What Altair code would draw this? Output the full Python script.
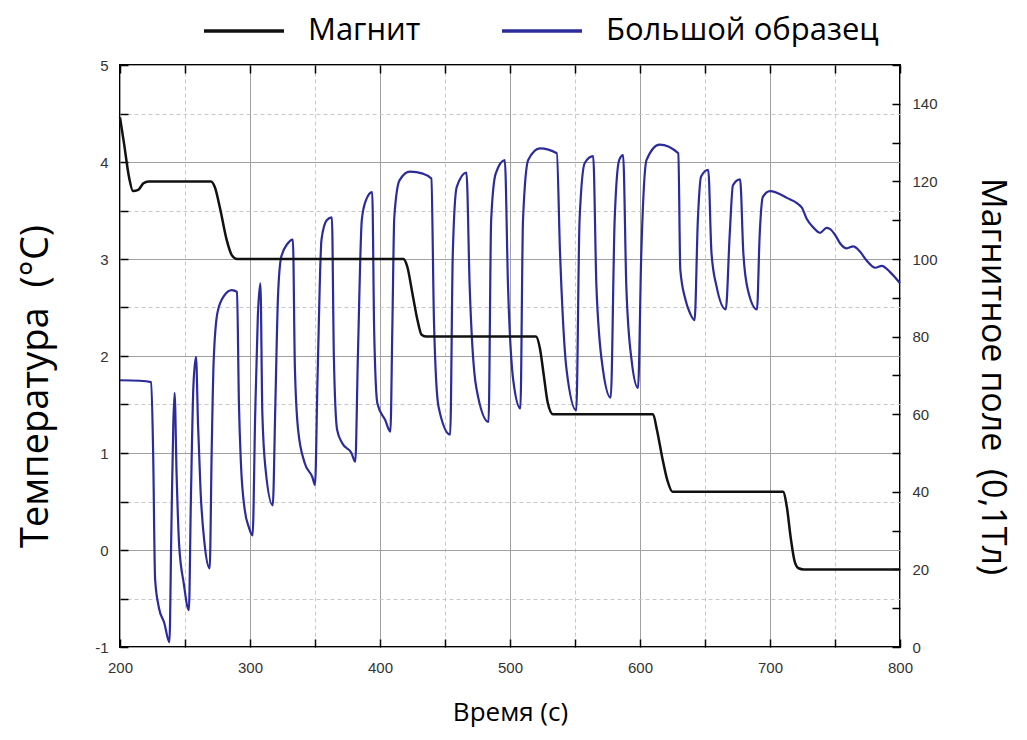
import altair as alt
import pandas as pd

# ---------------- data ----------------
series_names = ["Магнит", "Большой образец"]
series_colors = ["#111111", "#2b2b9c"]

# Temperature of the large sample (left axis, °C)
time_temp = [200, 215, 224, 225.5, 227, 230, 234, 238, 239.5, 241, 242, 243.5, 245.5, 249, 253,
             254.5, 256.5, 258.5, 260, 262, 265, 269, 270.5, 272, 275, 280, 286, 290, 291.5, 293,
             296, 299, 302, 304, 306, 308, 309.5, 312, 317.5, 319.5, 321.5, 324, 329, 333, 334.5,
             337, 342, 348, 350, 352, 355, 359, 363, 364.5, 367, 371, 378, 381, 383, 386, 389, 394,
             395.5, 398, 404, 408, 409.5, 411, 415, 423, 433, 439.5, 441.5, 445, 454, 456, 459,
             466.5, 469, 474, 483.5, 485.5, 489, 496, 498.5, 502.5, 508, 510, 514, 523, 536, 538.5,
             543.5, 551, 553.5, 557.5, 564, 566.5, 571.5, 577.5, 580.5, 584, 587, 589.5, 593.5,
             598.5, 601, 605, 615, 629.5, 631, 635, 638.5, 642, 644.5, 647, 652.5, 655, 659, 666,
             669, 671.5, 677, 679.5, 683, 690, 692, 694.5, 700, 713, 724.5, 728, 733, 738.5, 743.5,
             746, 750, 754, 759, 764, 769, 774, 781, 786, 792, 800]
temp = [1.75, 1.745, 1.73, 1.0, -0.3, -0.6, -0.75, -0.95, 0.2, 1.3, 1.62, 0.8, 0.05, -0.34, -0.62,
        0.5, 1.7, 1.99, 1.3, 0.6, 0.07, -0.19, 1.0, 1.93, 2.45, 2.62, 2.68, 2.66, 1.5, 0.9,
        0.41, 0.24, 0.15, 1.4, 2.4, 2.75, 1.41, 0.83, 0.46, 1.5, 2.6, 3.02, 3.16, 3.2, 1.9,
        1.24, 0.9, 0.75, 0.67, 1.8, 3.2, 3.4, 3.43, 2.0, 1.24, 1.1, 1.0, 0.91, 2.0, 3.4, 3.6, 3.69,
        2.27, 1.51, 1.34, 1.22, 2.3, 3.43, 3.81, 3.9, 3.88, 3.83, 2.37, 1.48, 1.19, 3.06, 3.74,
        3.89, 2.71, 1.68, 1.32, 3.40, 3.88, 4.02, 2.71, 1.75, 1.46, 3.40, 4.02, 4.14, 4.09, 3.06,
        1.86, 1.44, 3.40, 3.99, 4.06, 2.71, 1.86, 1.57, 3.40, 4.02, 4.07, 2.71, 1.96,
        1.67, 3.06, 4.02, 4.18, 4.09, 2.89, 2.58, 2.44, 2.37, 3.40, 3.85, 3.92, 3.06, 2.71, 2.48,
        3.25, 3.76, 3.82, 3.06, 2.68, 2.48, 3.23, 3.64, 3.70, 3.63, 3.53, 3.42, 3.33, 3.27, 3.32,
        3.31, 3.25, 3.16, 3.11, 3.13, 3.08, 2.99, 2.91, 2.93, 2.87, 2.75]

# Magnetic field (right axis, 0.1 T)
time_mag = [200, 203, 207, 210, 214, 218, 222, 270, 273, 277, 282, 286, 290, 418, 421, 425, 429,
            432, 436, 520, 523, 526, 529, 533, 610, 613, 617, 621, 625, 710, 713, 716, 719, 722,
            726, 800]
field = [136.5, 130, 121, 117.5, 117.8, 119.5, 120, 120, 118.5, 113, 105, 101, 100, 100, 98, 91, 84,
         80.5, 80, 80, 77, 70, 63, 60, 60, 56, 49, 43, 40, 40, 36, 28, 22, 20.3,
         20, 20]

x_tick_values = [200, 250, 300, 350, 400, 450, 500, 550, 600, 650, 700, 750, 800]
y_left_values = [-1, -0.5, 0, 0.5, 1, 1.5, 2, 2.5, 3, 3.5, 4, 4.5, 5]
y_right_values = [0, 10, 20, 30, 40, 50, 60, 70, 80, 90, 100, 110, 120, 130, 140, 150]

df_t = pd.DataFrame({"t": time_temp, "v": temp, "s": series_names[1]})
df_m = pd.DataFrame({"t": time_mag, "v": field, "s": series_names[0]})

LABEL_FONT = "Liberation Sans"
TITLE_FONT = "Open Sans"

color = alt.Color(
    "s:N",
    scale=alt.Scale(domain=series_names, range=series_colors),
    legend=alt.Legend(
        title=None, orient="none", direction="horizontal",
        legendX=82, legendY=-76,
        symbolType="stroke", symbolSize=6400, symbolStrokeWidth=3.5,
        labelFont=TITLE_FONT, labelFontSize=31, labelColor="#000",
        labelOffset=22, columnPadding=74, labelLimit=400,
    ),
)

grid_dash = {"condition": {"test": "datum.value % 100 != 0", "value": [4, 3]}, "value": []}
grid_color = {"condition": {"test": "datum.value % 100 != 0", "value": "#c8c8c8"}, "value": "#a0a0a0"}
ygrid_dash = {"condition": {"test": "datum.value % 1 != 0", "value": [4, 3]}, "value": []}
ygrid_color = {"condition": {"test": "datum.value % 1 != 0", "value": "#c8c8c8"}, "value": "#a0a0a0"}

x_bottom = alt.X(
    "t:Q",
    scale=alt.Scale(domain=[200, 800], nice=False, zero=False),
    axis=alt.Axis(
        orient="bottom", values=x_tick_values, offset=-8, tickSize=8, tickColor="#000",
        tickWidth=1.5, domain=False, grid=True, gridDash=grid_dash, gridColor=grid_color,
        gridWidth=1,
        labelExpr="datum.value % 100 == 0 ? '' + datum.value : ''",
        labelFont=LABEL_FONT, labelFontSize=15, labelColor="#333", labelPadding=13,
        labelFlush=False,
        title="Время (с)", titleFont=TITLE_FONT, titleFontSize=26, titleFontWeight="normal",
        titleColor="#000", titleX=390, titleY=73, titleAlign="center", titleBaseline="middle",
    ),
)

x_top = alt.X(
    "t:Q",
    scale=alt.Scale(domain=[200, 800], nice=False, zero=False),
    axis=alt.Axis(
        orient="top", values=x_tick_values, offset=-8, tickSize=8, tickColor="#000",
        tickWidth=1.5, domain=False, grid=False, labels=False, title=None,
    ),
)

temp_line = alt.Chart(df_t).mark_line(strokeWidth=2.2, interpolate="monotone").encode(
    x=x_bottom,
    y=alt.Y(
        "v:Q",
        scale=alt.Scale(domain=[-1, 5], nice=False, zero=False),
        axis=alt.Axis(
            orient="left", values=y_left_values, offset=-8, tickSize=8, tickColor="#000",
            tickWidth=1.5, domain=False, grid=True, gridDash=ygrid_dash, gridColor=ygrid_color,
            gridWidth=1,
            labelExpr="datum.value % 1 == 0 ? '' + datum.value : ''",
            labelFont=LABEL_FONT, labelFontSize=15, labelColor="#333", labelPadding=12,
            labelFlush=False,
            title="Температура\u00a0\u00a0(°C)", titleFont=TITLE_FONT, titleFontSize=38,
            titleFontWeight="normal", titleColor="#000", titleAngle=270,
            titleX=-92, titleY=321, titleAlign="center", titleBaseline="middle",
        ),
    ),
    color=color,
)

mag_line = alt.Chart(df_m).mark_line(strokeWidth=2.5, interpolate="monotone").encode(
    x=x_top,
    y=alt.Y(
        "v:Q",
        scale=alt.Scale(domain=[0, 150], nice=False, zero=False),
        axis=alt.Axis(
            orient="right", values=y_right_values, offset=-8, tickSize=8, tickColor="#000",
            tickWidth=1.5, domain=False, grid=False,
            labelExpr="datum.value % 20 == 0 ? '' + datum.value : ''",
            labelFont=LABEL_FONT, labelFontSize=15, labelColor="#333", labelPadding=12,
            labelFlush=False,
            title="Магнитное поле\u00a0\u00a0(0,1Тл)", titleFont=TITLE_FONT, titleFontSize=34,
            titleFontWeight="normal", titleColor="#000", titleAngle=90,
            titleX=99, titleY=311, titleAlign="center", titleBaseline="middle",
        ),
    ),
    color=color,
)

chart = (
    alt.layer(temp_line, mag_line)
    .resolve_scale(y="independent")
    .resolve_axis(x="independent")
    .properties(
        width=780, height=582,
        autosize=alt.AutoSizeParams(type="none"),
        padding={"left": 112, "top": 57, "right": 119, "bottom": 81},
        background="white",
    )
    .configure_view(stroke="#000", strokeWidth=2)
)

chart.save("out.html", embed_options={"renderer": "svg", "actions": False})
